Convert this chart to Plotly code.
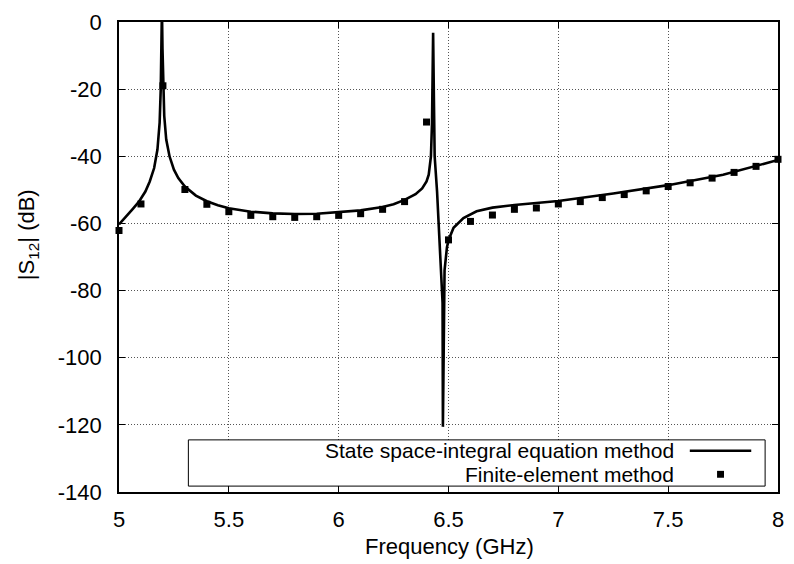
import plotly.graph_objects as go

# |S12| from the state space-integral equation method (continuous curve)
freq_line = [5.00, 5.03, 5.06, 5.09, 5.12, 5.14, 5.16, 5.175, 5.185, 5.19,
             5.193, 5.1955, 5.198, 5.201, 5.206, 5.215, 5.23, 5.25, 5.27, 5.30,
             5.35, 5.40, 5.45, 5.50, 5.60, 5.70, 5.80, 5.90, 6.00, 6.10,
             6.20, 6.25, 6.30, 6.35, 6.38, 6.40, 6.41, 6.42, 6.425, 6.428,
             6.430, 6.434, 6.437, 6.448, 6.463, 6.473, 6.4745, 6.4775, 6.482, 6.493,
             6.50, 6.523, 6.568, 6.628, 6.70, 6.80, 6.90, 7.00, 7.25, 7.50,
             7.75, 8.00]
s12_line = [-60.3, -58.2, -55.9, -53.6, -50.5, -47.5, -43.5, -38.0, -30.0, -20.0,
            -8.0, 4.0, -8.0, -18.0, -28.0, -35.0, -40.0, -44.0, -46.5, -49.0,
            -51.7, -53.4, -54.6, -55.5, -56.5, -57.0, -57.2, -57.1, -56.7, -56.1,
            -55.1, -54.3, -53.0, -51.3, -49.6, -47.5, -45.5, -40.0, -30.0, -15.0,
            -3.2, -25.0, -40.0, -50.6, -68.1, -83.7, -120.6, -93.5, -74.0, -67.1,
            -65.0, -61.3, -58.4, -56.4, -55.3, -54.5, -53.8, -53.3, -51.1, -48.6,
            -45.5, -41.1]

# |S12| from the finite-element method (sampled every 0.1 GHz)
freq_fem = [5.0, 5.1, 5.2, 5.3, 5.4, 5.5, 5.6, 5.7, 5.8, 5.9, 6.0,
            6.1, 6.2, 6.3, 6.4, 6.5, 6.6, 6.7, 6.8, 6.9, 7.0,
            7.1, 7.2, 7.3, 7.4, 7.5, 7.6, 7.7, 7.8, 7.9, 8.0]
s12_fem = [-62.1, -54.2, -19.0, -49.9, -54.3, -56.5, -57.6, -58.0, -58.2, -58.0, -57.6,
           -57.1, -55.8, -53.5, -29.8, -64.9, -59.4, -57.5, -55.8, -55.4, -54.2,
           -53.5, -52.3, -51.4, -50.3, -49.0, -47.9, -46.5, -44.8, -43.0, -40.9]

y_ticks = [0, -20, -40, -60, -80, -100, -120, -140]
y_tick_text = ["0", "-20", "-40", "-60", "-80", "-100", "-120", "-140"]

legend_labels = ["State space-integral equation method", "Finite-element method"]

W, H = 794, 564
L, R, T, B = 119, 10, 14, 72
PW, PH = W - L - R, H - T - B
FONT = "Liberation Sans, Arial, Helvetica, sans-serif"
FS = 22
LEG_FS = 21
ROW1, ROW2 = 450, 474


def px(xp):
    return (xp - L) / PW


def py(yp):
    return (H - B - yp) / PH


fig = go.Figure()
fig.add_trace(go.Scatter(x=freq_line, y=s12_line, mode="lines",
                         line=dict(color="black", width=2.6),
                         showlegend=False))
fig.add_trace(go.Scatter(x=freq_fem, y=s12_fem, mode="markers",
                         marker=dict(symbol="square", size=7, color="black",
                                     line=dict(width=0)),
                         cliponaxis=False, showlegend=False))

axis_common = dict(showline=True, linecolor="black", linewidth=1.5, mirror="ticks",
                   ticks="inside", ticklen=6, tickwidth=1, tickcolor="black",
                   showgrid=True, gridcolor="#555", gridwidth=1, griddash="1px,2px",
                   zeroline=False, tickfont=dict(family=FONT, size=FS, color="black"))

fig.update_xaxes(range=[5, 8], tickmode="linear", tick0=5, dtick=0.5,
                 ticklabelstandoff=7, **axis_common)
fig.update_yaxes(range=[-140, 0], tickmode="array", tickvals=y_ticks,
                 ticktext=y_tick_text, ticklabelstandoff=11, **axis_common)

shapes = [
    # legend frame
    dict(type="rect", xref="paper", yref="paper",
         x0=px(189), x1=px(771), y0=py(486), y1=py(439),
         line=dict(color="black", width=1), fillcolor="white", layer="above"),
    # legend samples
    dict(type="line", xref="paper", yref="paper",
         x0=px(695), x1=px(757), y0=py(ROW1), y1=py(ROW1),
         line=dict(color="black", width=2.6), layer="above"),
    dict(type="rect", xref="paper", yref="paper",
         x0=px(722.5), x1=px(729.5), y0=py(ROW2 + 3.5), y1=py(ROW2 - 3.5),
         line=dict(width=0), fillcolor="black", layer="above"),
]

annotations = [
    dict(text=legend_labels[0], xref="paper", yref="paper", x=px(681), y=py(ROW1),
         xanchor="right", yanchor="middle", showarrow=False,
         font=dict(family=FONT, size=LEG_FS, color="black")),
    dict(text=legend_labels[1], xref="paper", yref="paper", x=px(681), y=py(ROW2),
         xanchor="right", yanchor="middle", showarrow=False,
         font=dict(family=FONT, size=LEG_FS, color="black")),
    dict(text="Frequency (GHz)", xref="paper", yref="paper", x=px(453), y=py(547),
         xanchor="center", yanchor="middle", showarrow=False,
         font=dict(family=FONT, size=FS, color="black")),
    dict(text="|S<sub>12</sub>| (dB)", xref="paper", yref="paper", x=px(28), y=py(230),
         xanchor="center", yanchor="middle", textangle=-90, showarrow=False,
         font=dict(family=FONT, size=FS, color="black")),
]

fig.update_layout(width=W, height=H, margin=dict(l=L, r=R, t=T, b=B),
                  paper_bgcolor="white", plot_bgcolor="white",
                  shapes=shapes, annotations=annotations, showlegend=False)

fig.write_html("out.html")
